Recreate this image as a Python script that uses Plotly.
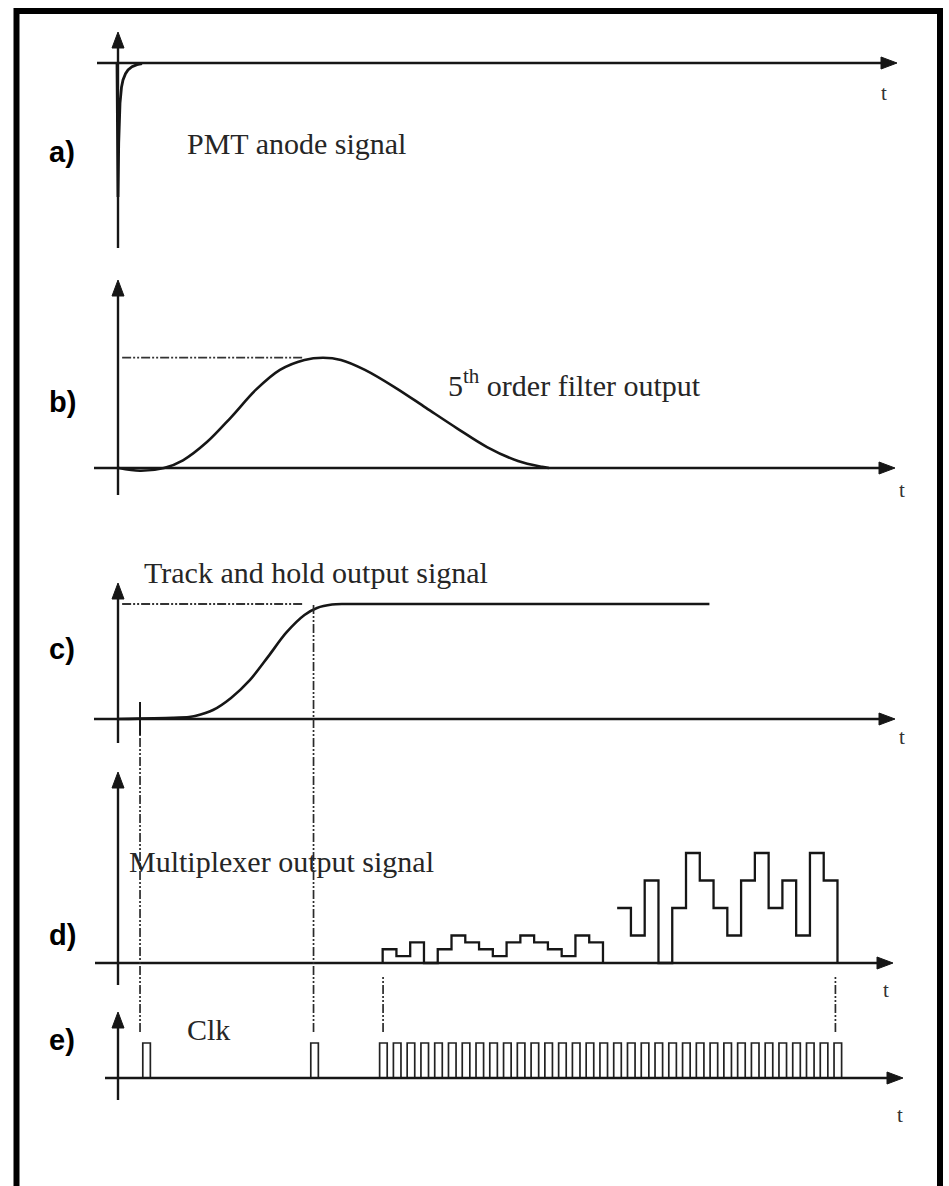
import plotly.graph_objects as go

# ---------------- DATA (time in clock periods, amplitude in arbitrary units) ----------------
# a) PMT anode signal: fast negative spike with exponential recovery
pmt_t = [-0.073, 0.0, 0.051, 0.109, 0.145, 0.254, 0.363, 0.545, 0.726, 1.017, 1.380, 1.743]
pmt_v = [0.0, -1.0, -0.60, -0.40, -0.30, -0.18, -0.127, -0.08, -0.052, -0.028, -0.012, -0.004]

# b) 5th order filter output (semi-gaussian)
filt_t = [0.07, 1.6, 3.34, 4.72, 6.46, 8.21, 10.02, 11.76, 13.54, 14.89, 16.19, 17.93,
          20.19, 22.37, 24.62, 26.8, 29.05, 30.79, 31.3]
filt_v = [0.0, -0.025, 0.0, 0.07, 0.235, 0.46, 0.71, 0.89, 0.98, 1.0, 0.98, 0.89,
          0.725, 0.545, 0.36, 0.19, 0.063, 0.01, 0.0]
filt_peak = 1.0

# c) Track and hold output
th_t = [0.0, 4.0, 5.16, 5.6, 6.9, 8.21, 9.59, 10.89, 12.2, 13.54, 14.45, 15.54, 16.5, 42.95]
th_v = [0.0, 0.01, 0.017, 0.026, 0.078, 0.183, 0.34, 0.54, 0.748, 0.904, 0.965, 0.995, 1.0, 1.0]
th_hold = 1.0
peak_ref_t = [0.3, 13.5]

# d) Multiplexer output: two groups of 16 channel steps
mux1_t = [19.22, 20.22, 21.22, 22.22, 23.22, 24.22, 25.22, 26.22, 27.22, 28.22, 29.22,
          30.22, 31.22, 32.22, 33.22, 34.22, 35.22]
mux1_levels = [0.5, 0.25, 0.75, 0.0, 0.5, 1.0, 0.75, 0.5, 0.25, 0.75, 1.0, 0.75, 0.5, 0.25, 1.0, 0.75]
mux2_t = [36.25, 37.25, 38.25, 39.25, 40.25, 41.25, 42.25, 43.25, 44.25, 45.25, 46.25,
          47.25, 48.25, 49.25, 50.25, 51.25, 52.25]
mux2_levels = [2.0, 1.0, 3.0, 0.0, 2.0, 4.0, 3.0, 2.0, 1.0, 3.0, 4.0, 2.0, 3.0, 1.0, 4.0, 3.0]

# e) Clock pulses (rising-edge times)
clk_rise = [1.8, 14.0, 19.0, 20.0, 21.0, 22.0, 23.0, 24.0, 25.0, 26.0, 27.0, 28.0, 29.0,
            30.0, 31.0, 32.0, 33.0, 34.0, 35.0, 36.0, 37.0, 38.0, 39.0, 40.0, 41.0, 42.0,
            43.0, 44.0, 45.0, 46.0, 47.0, 48.0, 49.0, 50.0, 51.0, 52.0]
clk_width = 0.55

# timing reference lines (dash-dot)
ref_t = [1.6, 14.2, 19.25, 52.1]

# ---------------- LAYOUT CONSTANTS ----------------
W, H = 949, 1186
X0_PX, T_PX = 118.0, 13.77     # pixel of t=0, pixels per time unit
INK = "#161616"
SERIF = "Liberation Serif, Times New Roman, serif"
SANS = "Liberation Sans, Arial, sans-serif"
DASHDOT = "9px,2px,2px,2px,2px,2px"


def px(x):
    return x / W


def py(y):
    return 1 - y / H


def dom(base, unit, lo, hi):
    return [py(base - lo * unit), py(base - hi * unit)]


panels = [  # baseline px, px per unit, range lo, hi
    (63, 134.0, -1.6, 0.2),
    (468, 110.3, -0.2, 1.65),
    (719, 115.0, -0.2, 1.3),
    (963, 27.5, -0.6, 6.5),
    (1078, 35.0, -0.5, 1.9),
]

fig = go.Figure()

# a)
fig.add_trace(go.Scatter(x=pmt_t, y=pmt_v, mode="lines", line=dict(color=INK, width=2.8),
                         yaxis="y"))
# b)
fig.add_trace(go.Scatter(x=filt_t, y=filt_v, mode="lines", line=dict(color=INK, width=2.6, shape="spline"),
                         yaxis="y2"))
fig.add_trace(go.Scatter(x=peak_ref_t, y=[filt_peak, filt_peak], mode="lines",
                         line=dict(color="#333", width=1.8, dash=DASHDOT), yaxis="y2"))
# c)
fig.add_trace(go.Scatter(x=th_t, y=th_v, mode="lines", line=dict(color=INK, width=2.6, shape="spline", smoothing=0.8),
                         yaxis="y3"))
fig.add_trace(go.Scatter(x=peak_ref_t, y=[th_hold, th_hold], mode="lines",
                         line=dict(color="#333", width=1.8, dash=DASHDOT), yaxis="y3"))
# d)
fig.add_trace(go.Scatter(x=[mux1_t[0]] + mux1_t, y=[0.0] + mux1_levels + [0.0], mode="lines",
                         line=dict(color=INK, width=2.3, shape="hv"), yaxis="y4"))
fig.add_trace(go.Scatter(x=mux2_t, y=mux2_levels + [0.0], mode="lines",
                         line=dict(color=INK, width=2.3, shape="hv"), yaxis="y4"))
# e)
cx, cy = [], []
for r in clk_rise:
    cx += [r, r, r + clk_width, r + clk_width, None]
    cy += [0, 1, 1, 0, None]
fig.add_trace(go.Scatter(x=cx, y=cy, mode="lines", line=dict(color="#222", width=1.7),
                         connectgaps=False, yaxis="y5"))

shapes = []
annotations = []

# frame
shapes.append(dict(type="rect", xref="paper", yref="paper", x0=px(16.5), x1=px(940), y0=py(1200), y1=py(11),
                   line=dict(color="black", width=6)))

# axes with arrowheads
axes_px = [
    # y-axis x, top tip, bottom, x-axis y, left, right tip, t-label
    (118, 32, 248, 63, 97, 897, (884, 93)),
    (118, 280, 495, 468, 94, 895, (902, 490)),
    (118, 583, 743, 719, 94, 895, (902, 737)),
    (118, 772, 985, 963, 95, 893, (886, 990)),
    (118, 1012, 1100, 1078, 105, 903, (900, 1115)),
]
AL, AW = 16, 6
for (yx, ytop, ybot, xy, xl, xr, tl) in axes_px:
    shapes.append(dict(type="line", xref="paper", yref="paper", x0=px(yx), x1=px(yx),
                       y0=py(ybot), y1=py(ytop + AL - 1), line=dict(color=INK, width=2.4)))
    shapes.append(dict(type="path", xref="paper", yref="paper",
                       path=f"M{px(yx)},{py(ytop)} L{px(yx - AW)},{py(ytop + AL)} L{px(yx + AW)},{py(ytop + AL)} Z",
                       fillcolor=INK, line=dict(color=INK, width=1)))
    shapes.append(dict(type="line", xref="paper", yref="paper", x0=px(xl), x1=px(xr - AL + 1),
                       y0=py(xy), y1=py(xy), line=dict(color=INK, width=2.6)))
    shapes.append(dict(type="path", xref="paper", yref="paper",
                       path=f"M{px(xr)},{py(xy)} L{px(xr - AL)},{py(xy - AW)} L{px(xr - AL)},{py(xy + AW)} Z",
                       fillcolor=INK, line=dict(color=INK, width=1)))
    annotations.append(dict(x=px(tl[0]), y=py(tl[1]), xref="paper", yref="paper", text="t",
                            xanchor="center", yanchor="middle",
                            showarrow=False, font=dict(family=SERIF, size=21, color="#333")))

# dash-dot timing lines (data x, paper y)
ref_spans = [(735, 1032), (604, 1032), (975, 1032), (975, 1032)]
for t, (y0, y1) in zip(ref_t, ref_spans):
    shapes.append(dict(type="line", xref="x", yref="paper", x0=t, x1=t, y0=py(y1), y1=py(y0),
                       line=dict(color="#2a2a2a", width=1.7, dash=DASHDOT)))
# small solid tick on c) baseline
shapes.append(dict(type="line", xref="x", yref="paper", x0=ref_t[0], x1=ref_t[0], y0=py(735), y1=py(702),
                   line=dict(color=INK, width=2)))

# panel letters
for lab, yy in zip(["a)", "b)", "c)", "d)", "e)"], [152, 402, 649, 935, 1040]):
    annotations.append(dict(x=px(47), y=py(yy), xref="paper", yref="paper", text=f"<b>{lab}</b>",
                            xanchor="left", yanchor="middle",
                            showarrow=False, font=dict(family=SANS, size=29, color="black")))

texts = [
    ("PMT anode signal", 185, 143),
    ("5<sup>th</sup> order filter output", 446, 383),
    ("Track and hold output signal", 142, 572),
    ("Multiplexer output signal", 127, 861),
    ("Clk", 185, 1029),
]
for txt, xx, yy in texts:
    annotations.append(dict(x=px(xx), y=py(yy), xref="paper", yref="paper", text=txt,
                            xanchor="left", yanchor="middle",
                            showarrow=False, font=dict(family=SERIF, size=30, color="#262626")))

layout = dict(
    width=W, height=H, autosize=False,
    margin=dict(l=0, r=0, t=0, b=0, pad=0),
    paper_bgcolor="white", plot_bgcolor="white",
    showlegend=False,
    xaxis=dict(range=[-X0_PX / T_PX, (W - X0_PX) / T_PX], domain=[0, 1], visible=False, fixedrange=True),
    shapes=shapes, annotations=annotations,
)
for i, (b, u, lo, hi) in enumerate(panels, start=1):
    key = "yaxis" if i == 1 else f"yaxis{i}"
    layout[key] = dict(domain=dom(b, u, lo, hi), range=[lo, hi], visible=False, anchor="x", fixedrange=True)

fig.update_layout(**layout)
fig.write_html("out.html", config={"displayModeBar": False})
